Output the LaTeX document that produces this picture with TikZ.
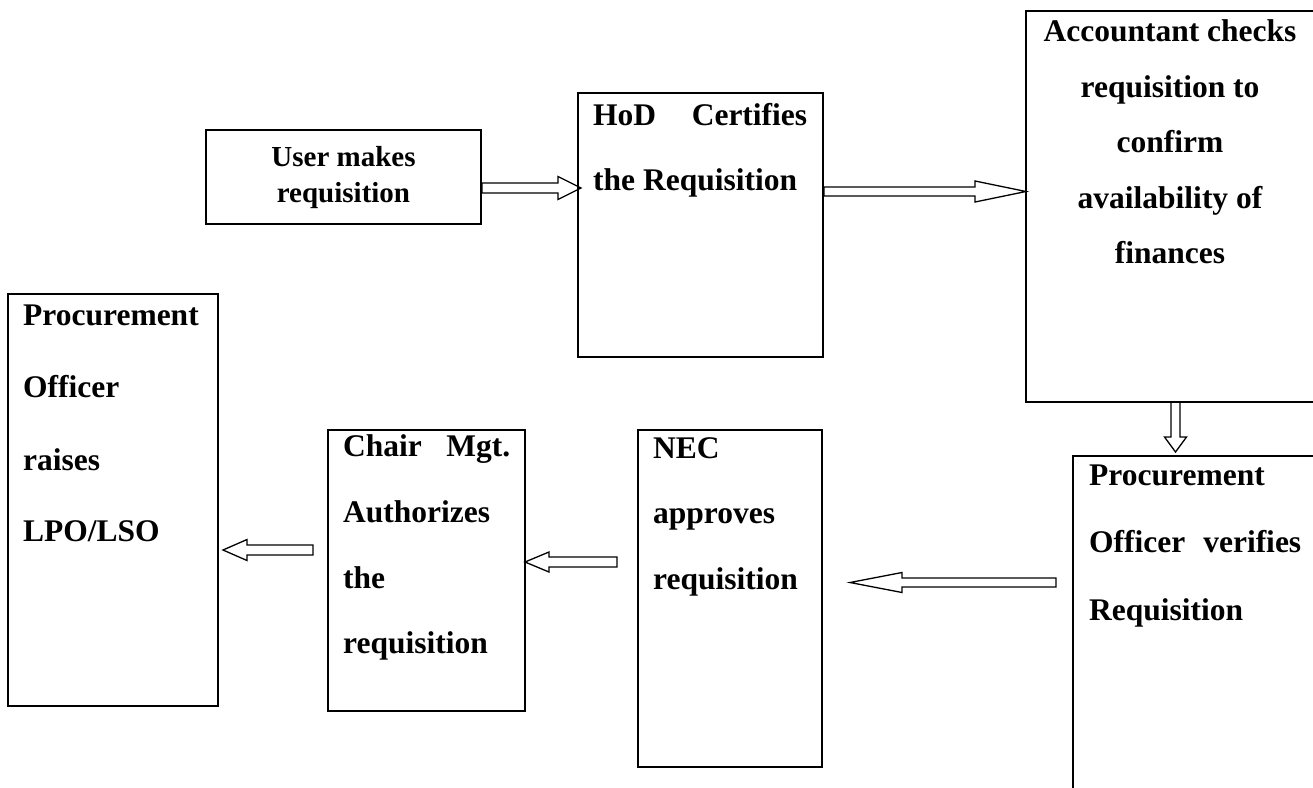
\documentclass[tikz,border=0pt]{standalone}
\usepackage{fontspec}
\setmainfont{Liberation Serif}
\usetikzlibrary{calc}

% Outlined block arrow: tail, tip, shaft half width, head half width, head length
\newcommand\hollowarrow[5]{%
  \coordinate (ha-base) at ($(#2)!#5!(#1)$);
  \draw[hollow] ($(#1)!#3!90:(#2)$) -- ($(ha-base)!#3!90:(#2)$)
    -- ($(ha-base)!#4!90:(#2)$) -- (#2) -- ($(ha-base)!#4!-90:(#2)$)
    -- ($(ha-base)!#3!-90:(#2)$) -- ($(#1)!#3!-90:(#2)$) -- cycle;}

\begin{document}
\begin{tikzpicture}[x=1pt,y=-1pt,
  box/.style={draw, line width=1.8pt, inner sep=0pt, outer sep=0pt, anchor=north west},
  hollow/.style={draw, line width=1.3pt, line join=miter},
  txt/.style={anchor=base west, inner sep=0pt, font=\fontsize{31.5}{38}\selectfont\bfseries},
  txtc/.style={txt, anchor=base},
]
\useasboundingbox (0,0) rectangle (1313,787);
\clip (0,0) rectangle (1313,787);

% process boxes
\node[box, minimum width=275pt, minimum height=94pt]  (user)   at (206,130) {};
\node[box, minimum width=245pt, minimum height=264pt] (hod)    at (578,93)  {};
\node[box, minimum width=300pt, minimum height=391pt] (acc)    at (1026,11) {};
\node[box, minimum width=260pt, minimum height=350pt] (proc)   at (1073,456) {};
\node[box, minimum width=184pt, minimum height=337pt] (nec)    at (638,430) {};
\node[box, minimum width=197pt, minimum height=281pt] (chair)  at (328,430) {};
\node[box, minimum width=210pt, minimum height=412pt] (raises) at (8,294)   {};

% box texts
\node[inner sep=0pt, align=center, font=\fontsize{29}{36}\selectfont\bfseries]
  (user-t) at ($(user.center)+(0,1)$) {User makes\\requisition};

\node[txt] (hod-1) at (593,125) {\makebox[214pt][s]{HoD Certifies}};
\node[txt] (hod-2) at (593,190) {the Requisition};

\node[txtc] (acc-1) at (1170,41)  {Accountant checks};
\node[txtc] (acc-2) at (1170,97)  {requisition to};
\node[txtc] (acc-3) at (1170,152) {confirm};
\node[txtc] (acc-4) at (1170,208) {availability of};
\node[txtc] (acc-5) at (1170,263) {finances};

\node[txt] (proc-1) at (1089,485) {Procurement};
\node[txt] (proc-2) at (1089,552) {\makebox[212pt][s]{Officer verifies}};
\node[txt] (proc-3) at (1089,620) {Requisition};

\node[txt] (nec-1) at (653,458) {NEC};
\node[txt] (nec-2) at (653,523) {approves};
\node[txt] (nec-3) at (653,589) {requisition};

\node[txt] (chair-1) at (343,456) {\makebox[167pt][s]{Chair Mgt.}};
\node[txt] (chair-2) at (343,522) {Authorizes};
\node[txt] (chair-3) at (343,588) {the};
\node[txt] (chair-4) at (343,653) {requisition};

\node[txt] (raises-1) at (23,325) {Procurement};
\node[txt] (raises-2) at (23,397) {Officer};
\node[txt] (raises-3) at (23,470) {raises};
\node[txt] (raises-4) at (23,541) {LPO/LSO};

% arrow end points
\coordinate (a1s) at ($(user.east)+(1,11)$);
\coordinate (a1e) at ($(hod.west)+(3,-37)$);
\coordinate (a2s) at ($(hod.east)+(1,-33.5)$);
\coordinate (a2e) at ($(acc.west)+(0,-15)$);
\coordinate (a3s) at ($(acc.south)+(-0.5,0)$);
\coordinate (a3e) at ($(a3s |- proc.north)+(0,-4)$);
\coordinate (a4s) at ($(proc.north west)+(-17,126.5)$);
\coordinate (a4e) at ($(nec.east)+(28,-16)$);
\coordinate (a5s) at ($(nec.west)+(-21,-36.5)$);
\coordinate (a5e) at ($(chair.east)+(0,-8.5)$);
\coordinate (a6s) at ($(chair.west)+(-15,-20.5)$);
\coordinate (a6e) at ($(raises.east)+(5,50)$);

% flow arrows
\hollowarrow{a1s}{a1e}{5pt}{11.5pt}{23pt}
\hollowarrow{a2s}{a2e}{4.5pt}{10.5pt}{51pt}
\hollowarrow{a3s}{a3e}{4.5pt}{11pt}{15pt}
\hollowarrow{a4s}{a4e}{4.5pt}{10pt}{52pt}
\hollowarrow{a5s}{a5e}{5pt}{10pt}{24pt}
\hollowarrow{a6s}{a6e}{5pt}{10.5pt}{24pt}
\end{tikzpicture}
\end{document}
